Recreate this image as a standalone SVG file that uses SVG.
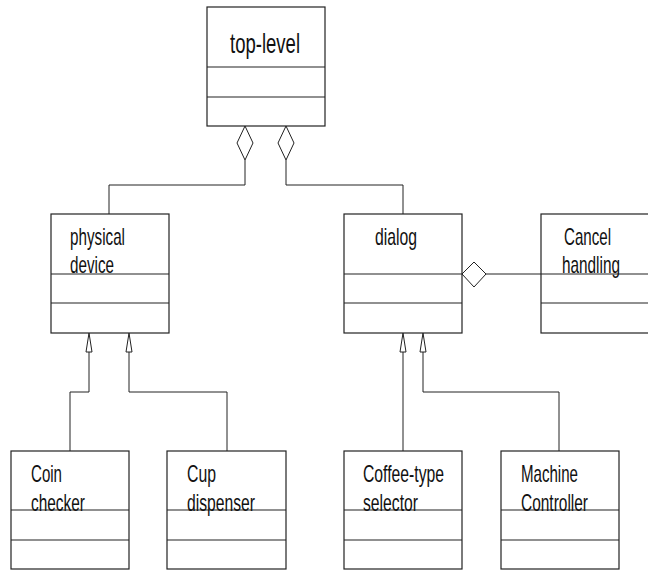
<svg xmlns="http://www.w3.org/2000/svg" width="648" height="570" viewBox="0 0 648 570">
<style>
.box{fill:#fff;stroke:#222;stroke-width:1.2}
.div{stroke:#222;stroke-width:1.2}
.ln{fill:none;stroke:#222;stroke-width:1}
.agg{fill:#fff;stroke:#222;stroke-width:1}
.gen{fill:#fff;stroke:#222;stroke-width:1}
text{font-family:"Liberation Sans",Arial,sans-serif;font-size:24px;fill:#111}
</style>
<rect width="648" height="570" fill="#fff"/>
<g id="connectors">
<polyline class="ln" points="245,160 245,185 109,185 109,214"/>
<polyline class="ln" points="286,160 286,185 403,185 403,214"/>
<line class="ln" x1="486" y1="274" x2="541" y2="274"/>
<polyline class="ln" points="89,352 89,392 70,392 70,451"/>
<polyline class="ln" points="129,352 129,392 227,392 227,451"/>
<polyline class="ln" points="403,352 403,451"/>
<polyline class="ln" points="423,352 423,392 559,392 559,451"/>
<polygon class="agg" points="245,126 253,143 245,160 237,143"/>
<polygon class="agg" points="286,126 294,143 286,160 278,143"/>
<polygon class="agg" points="462,274 474,262 486,274 474,287"/>
<polygon class="gen" points="89,333 92,352 86,352"/>
<polygon class="gen" points="129,333 132,352 126,352"/>
<polygon class="gen" points="403,333 406,352 400,352"/>
<polygon class="gen" points="423,333 426,352 420,352"/>
</g>
<g id="top-level">
<rect class="box" x="207" y="7" width="118" height="119"/>
<line class="div" x1="207" y1="67" x2="325" y2="67"/>
<line class="div" x1="207" y1="97" x2="325" y2="97"/>
<text x="230" y="53" style="font-size:28px" textLength="70" lengthAdjust="spacingAndGlyphs">top-level</text>
</g>
<g id="physical-device">
<rect class="box" x="51" y="214" width="118" height="119"/>
<line class="div" x1="51" y1="274" x2="169" y2="274"/>
<line class="div" x1="51" y1="303" x2="169" y2="303"/>
<text x="70" y="245" textLength="55" lengthAdjust="spacingAndGlyphs">physical</text>
<text x="70" y="273" textLength="44" lengthAdjust="spacingAndGlyphs">device</text>
</g>
<g id="dialog">
<rect class="box" x="344" y="214" width="118" height="119"/>
<line class="div" x1="344" y1="274" x2="462" y2="274"/>
<line class="div" x1="344" y1="303" x2="462" y2="303"/>
<text x="375" y="245" textLength="42" lengthAdjust="spacingAndGlyphs">dialog</text>
</g>
<g id="cancel-handling">
<rect class="box" x="541" y="214" width="118" height="119"/>
<line class="div" x1="541" y1="274" x2="659" y2="274"/>
<line class="div" x1="541" y1="303" x2="659" y2="303"/>
<text x="564" y="245" textLength="47" lengthAdjust="spacingAndGlyphs">Cancel</text>
<text x="562" y="273" textLength="58" lengthAdjust="spacingAndGlyphs">handling</text>
</g>
<g id="coin-checker">
<rect class="box" x="11" y="451" width="118" height="118"/>
<line class="div" x1="11" y1="510" x2="129" y2="510"/>
<line class="div" x1="11" y1="540" x2="129" y2="540"/>
<text x="31" y="482" textLength="31" lengthAdjust="spacingAndGlyphs">Coin</text>
<text x="31" y="511" textLength="54" lengthAdjust="spacingAndGlyphs">checker</text>
</g>
<g id="cup-dispenser">
<rect class="box" x="167" y="451" width="119" height="118"/>
<line class="div" x1="167" y1="510" x2="286" y2="510"/>
<line class="div" x1="167" y1="540" x2="286" y2="540"/>
<text x="187" y="482" textLength="29" lengthAdjust="spacingAndGlyphs">Cup</text>
<text x="187" y="511" textLength="68" lengthAdjust="spacingAndGlyphs">dispenser</text>
</g>
<g id="coffee-type-selector">
<rect class="box" x="344" y="451" width="118" height="118"/>
<line class="div" x1="344" y1="510" x2="462" y2="510"/>
<line class="div" x1="344" y1="540" x2="462" y2="540"/>
<text x="363" y="482" textLength="81" lengthAdjust="spacingAndGlyphs">Coffee-type</text>
<text x="363" y="511" textLength="55" lengthAdjust="spacingAndGlyphs">selector</text>
</g>
<g id="machine-controller">
<rect class="box" x="501" y="451" width="118" height="118"/>
<line class="div" x1="501" y1="510" x2="619" y2="510"/>
<line class="div" x1="501" y1="540" x2="619" y2="540"/>
<text x="521" y="482" textLength="57" lengthAdjust="spacingAndGlyphs">Machine</text>
<text x="521" y="511" textLength="67" lengthAdjust="spacingAndGlyphs">Controller</text>
</g>
</svg>
